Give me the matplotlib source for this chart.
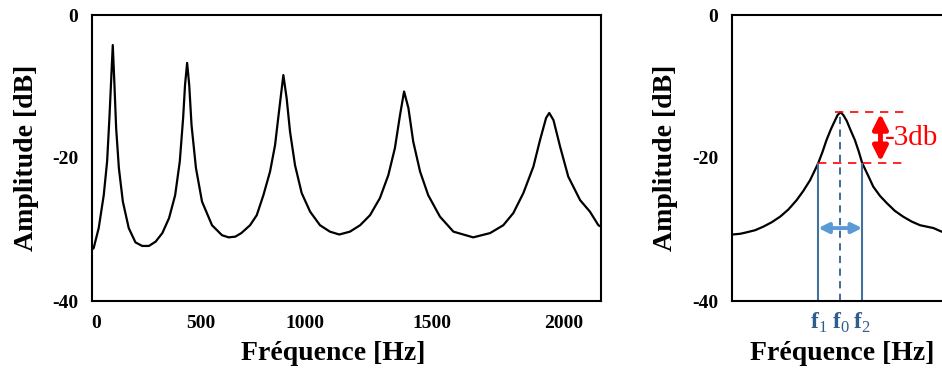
import numpy as np
import matplotlib
matplotlib.use('Agg')
import matplotlib.pyplot as plt

plt.rcParams['font.family'] = 'Liberation Serif'
plt.rcParams['axes.unicode_minus'] = False
plt.rcParams['mathtext.fontset'] = 'custom'
plt.rcParams['mathtext.rm'] = 'Liberation Serif'
plt.rcParams['mathtext.bf'] = 'Liberation Serif:bold'

# Full spectrum
freq = [-19, -11, 13, 37, 53, 64, 72, 80, 88, 96, 109, 128, 156, 188, 220,
        252, 284, 316, 348, 377, 399, 415, 424, 434, 444, 455, 476, 505, 553,
        601, 633, 665, 694, 736, 768, 800, 832, 856, 877, 896, 912, 928, 952,
        984, 1020, 1059, 1098, 1135, 1177, 1217, 1256, 1295, 1328, 1354, 1374,
        1390, 1407, 1426, 1453, 1485, 1530, 1581, 1656, 1720, 1770, 1808, 1846,
        1884, 1909, 1932, 1944, 1960, 1985, 2016, 2061, 2098, 2130, 2140]
amp = [-32.8, -32.6, -29.8, -25.2, -20.5, -14.4, -9.3, -4.2, -9.8, -15.8,
       -21.4, -26.1, -29.8, -31.8, -32.3, -32.3, -31.7, -30.5, -28.4, -25.2,
       -20.5, -14.4, -9.8, -6.7, -9.8, -15.4, -21.4, -26.1, -29.4, -30.8,
       -31.1, -31.0, -30.5, -29.4, -28.0, -25.2, -21.9, -18.2, -13.0, -8.4,
       -11.7, -16.3, -21.0, -24.9, -27.5, -29.4, -30.3, -30.7, -30.3, -29.4,
       -28.0, -25.6, -22.4, -18.6, -14.0, -10.7, -13.0, -17.7, -21.9, -25.2,
       -28.2, -30.3, -31.1, -30.5, -29.4, -27.7, -24.9, -21.2, -17.5, -14.4,
       -13.7, -14.7, -18.4, -22.6, -25.9, -27.5, -29.4, -29.6]

# Zoom on the last resonance
freq_zoom = [1721, 1737, 1750, 1768, 1785, 1802, 1820, 1837, 1854, 1868, 1882,
             1892, 1899, 1908, 1916, 1925, 1934, 1939, 1945, 1951, 1958, 1966,
             1975, 1983, 1990, 2002, 2013, 2027, 2041, 2058, 2075, 2093, 2110,
             2124, 2138, 2148, 2155]
amp_zoom = [-30.7, -30.6, -30.4, -30.1, -29.6, -29.0, -28.2, -27.2, -25.9,
            -24.6, -23.1, -21.7, -20.7, -19.1, -17.5, -16.0, -14.7, -14.0,
            -13.6, -14.0, -14.8, -16.1, -17.5, -19.1, -20.7, -22.4, -24.0,
            -25.3, -26.3, -27.4, -28.2, -28.9, -29.4, -29.6, -29.8, -30.1,
            -30.3]

f1, f0, f2 = 1899, 1945, 1990
a_peak, a_cut = -13.6, -20.7

# x tick labels are not evenly spaced in the original drawing
tick_hz = [-500, 0, 500, 1000, 1500, 2000, 2500]
tick_pos = [-8.5, 96, 201, 305, 432, 564, 696]


def fwd(x):
    return np.interp(x, tick_hz, tick_pos)


def inv(p):
    return np.interp(p, tick_pos, tick_hz)


fs_tick = 14
fs_label = 20

fig = plt.figure(figsize=(9.42, 3.70), dpi=100)

# Left panel: full spectrum
ax1 = fig.add_axes([92/942, 1 - 301/370, 509/942, 286/370])
ax1.plot(freq, amp, color='black', lw=1.6)
ax1.set_xscale('function', functions=(fwd, inv))
ax1.set_xlim(-19, 2140)
ax1.set_ylim(-40, 0)
ax1.set_xticks([0, 500, 1000, 1500, 2000])
ax1.set_xticklabels(['0', '500', '1000', '1500', '2000'])
ax1.set_yticks([-40, -20, 0])
ax1.set_yticklabels(['-40', '-20', '0'])
ax1.set_xlabel('Fréquence [Hz]', fontsize=fs_label, fontweight='bold')
ax1.set_ylabel('Amplitude [dB]', fontsize=fs_label, fontweight='bold')
ax1.xaxis.set_label_coords(0.473, -0.14)
ax1.yaxis.set_label_coords(-0.105, 0.5)

# Right panel: half-power bandwidth sketch
ax2 = fig.add_axes([732/942, 1 - 301/370, 228/942, 286/370])
ax2.plot(freq_zoom, amp_zoom, color='black', lw=1.6)
ax2.set_xlim(1720, 2193)
ax2.set_ylim(-40, 0)
ax2.set_yticks([-40, -20, 0])
ax2.set_yticklabels(['-40', '-20', '0'])
ax2.set_xticks([f1, f0, f2])
ax2.set_xticklabels([r'$\mathbf{f}_{1}$', r'$\mathbf{f}_{0}$', r'$\mathbf{f}_{2}$'],
                    color='#2E5E8E')
ax2.set_xlabel('Fréquence [Hz]', fontsize=fs_label, fontweight='bold')
ax2.set_ylabel('Amplitude [dB]', fontsize=fs_label, fontweight='bold')
ax2.xaxis.set_label_coords(0.482, -0.14)
ax2.yaxis.set_label_coords(-0.235, 0.5)
ax2.spines['right'].set_visible(False)

ax2.vlines([f1, f2], -40, a_cut, color='#41719C', lw=1.5)
ax2.vlines(f0, -40, a_peak, color='#2F5F8A', lw=1.3, linestyles=(0, (4, 3)))
ax2.hlines(a_peak, 1934, 2089, color='red', lw=1.2, linestyles=(0, (5, 4)))
ax2.hlines(a_cut, 1899, 2083, color='red', lw=1.2, linestyles=(0, (5, 4)))
ax2.annotate('', xy=(2028, a_cut + 0.2), xytext=(2028, a_peak - 0.2),
             arrowprops=dict(arrowstyle='<|-|>', color='red', lw=3.5,
                             mutation_scale=22, shrinkA=0, shrinkB=0))
ax2.annotate('', xy=(f1, -29.8), xytext=(f2, -29.8),
             arrowprops=dict(arrowstyle='<|-|>', color='#5B9BD5', lw=2.8,
                             mutation_scale=15, shrinkA=0, shrinkB=0))
ax2.text(2037, -17.2, '-3db', color='red', fontsize=21, va='center', ha='left')

for ax in (ax1, ax2):
    for s in ax.spines.values():
        s.set_linewidth(1.5)
    ax.tick_params(length=0, pad=10)
    ax.tick_params(axis='both', labelsize=fs_tick)
    for lab in ax.get_yticklabels():
        lab.set_fontweight('bold')
for lab in ax1.get_xticklabels():
    lab.set_fontweight('bold')
ax2.tick_params(axis='x', labelsize=17, pad=7)

fig.savefig('out.png', dpi=100)
